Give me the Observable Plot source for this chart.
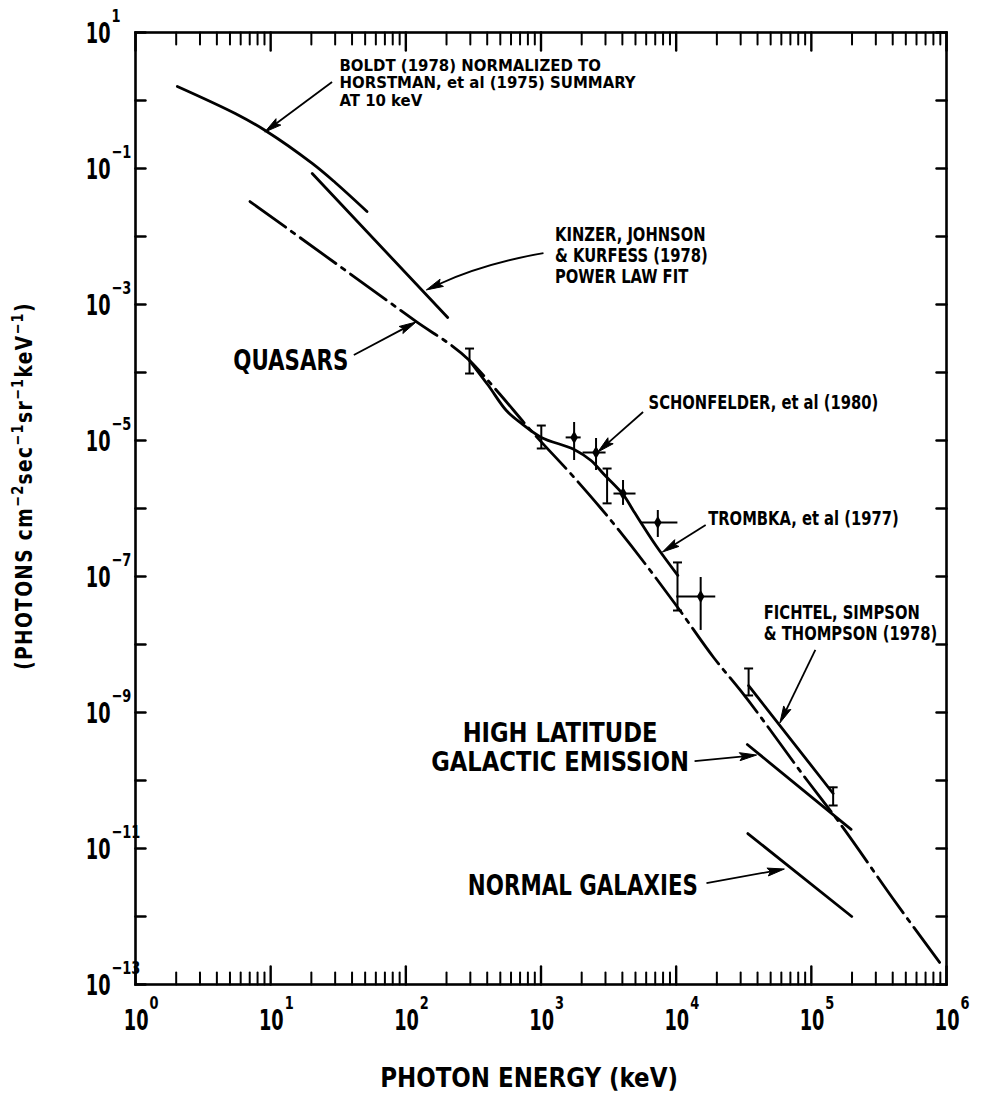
<!DOCTYPE html>
<html><head><meta charset="utf-8">
<script src="https://cdn.jsdelivr.net/npm/d3@7"></script>
<script src="https://cdn.jsdelivr.net/npm/@observablehq/plot@0.6"></script>
<style>body{margin:0;background:#fff} svg{display:block}</style>
</head><body><div id="chart"></div>
<script>
// ---------------- data (energy in keV, flux in photons cm^-2 s^-1 sr^-1 keV^-1) ----------------
const boldtE = [2.04, 5.47, 9.12, 20.3, 30.0, 51.6];
const boldtF = [1.61, 0.644, 0.362, 0.1186, 0.0622, 0.0233];

const kinzerE = [20.3, 204];
const kinzerF = [0.0843, 6.44e-4];

const quasarE = [7.03, 116, 296, 484, 805, 1758, 2782, 10280, 18930, 29900, 93300, 163000, 401000, 889000];
const quasarF = [0.0327, 5.82e-4, 1.50e-4, 5.08e-5, 1.55e-5, 2.86e-6, 1.0e-6, 3.5e-8, 6.44e-9, 2.11e-9, 1.0e-10, 2.33e-11, 1.84e-12, 2.11e-13];

const combE = [296, 408, 554, 716, 1005, 1758, 2344, 2930, 4045, 4864, 7080, 10280];
const combF = [1.50e-4, 6.44e-5, 2.76e-5, 1.78e-5, 1.11e-5, 7.38e-6, 5.08e-6, 3.16e-6, 1.61e-6, 9.04e-7, 2.86e-7, 1.04e-7];

const fichtelE = [34350, 145000];
const fichtelF = [2.49e-9, 6.44e-11];

const highLatE = [33600, 196800];
const highLatF = [3.38e-10, 1.91e-11];

const normalE = [33900, 199000];
const normalF = [1.66e-11, 1.0e-12];

// error bars with end caps
const capE  = [296, 1005, 3083, 10230, 34350, 145000];
const capLo = [9.66e-5, 7.63e-6, 1.19e-6, 3.16e-8, 1.78e-9, 4.29e-11];
const capHi = [2.25e-4, 1.66e-5, 3.87e-6, 1.61e-7, 4.44e-9, 7.94e-11];

// data points with crossed error bars
const crossE    = [1758, 2554, 4045, 7315, 15180];
const crossF    = [1.11e-5, 6.66e-6, 1.66e-6, 6.22e-7, 5.08e-8];
const crossLo   = [5.08e-6, 3.62e-6, 1.11e-6, 3.75e-7, 1.61e-8];
const crossHi   = [1.84e-5, 1.07e-5, 2.58e-6, 9.35e-7, 9.66e-8];
const crossEmin = [1535, 2047, 3467, 5479, 10090];
const crossEmax = [1982, 3030, 5047, 10300, 19630];

// annotation texts and anchor points (data coords)
const boldtText = ["BOLDT (1978) NORMALIZED TO\nHORSTMAN, et al (1975) SUMMARY\nAT 10 keV"];
const boldtE0 = [32.3], boldtF0 = [1.84];
const noteTexts = ["KINZER, JOHNSON\n& KURFESS (1978)\nPOWER LAW FIT", "SCHONFELDER, et al (1980)", "TROMBKA, et al (1977)", "FICHTEL, SIMPSON\n& THOMPSON (1978)"];
const noteE = [1270, 6250, 17260, 44500];
const noteF = [5.26e-3, 3.62e-5, 7.13e-7, 2.11e-8];
const bigEndTexts = ["QUASARS", "NORMAL GALAXIES"];
const bigEndE = [37.6, 14500];
const bigEndF = [1.50e-4, 2.86e-12];
const bigMidTexts = ["HIGH LATITUDE\nGALACTIC EMISSION"];
const bigMidE = [1384];
const bigMidF = [3.11e-10];

// arrows: from (label) -> to (curve)
const arrowFromE = [28.7, 41.6, 5740, 16670, 108000, 13800, 16900];
const arrowFromF = [1.84, 1.78e-4, 2.58e-5, 5.62e-7, 8.17e-9, 1.90e-10, 3.05e-12];
const arrowToE   = [9.12, 120, 2654, 7980, 59000, 39700, 63700];
const arrowToF   = [0.338, 5.43e-4, 6.66e-6, 2.25e-7, 6.89e-10, 2.33e-10, 4.91e-12];
const curvedFromE = [1052], curvedFromF = [5.62e-3], curvedToE = [143], curvedToF = [1.61e-3];

// axis ticks
const xExponents = [0, 1, 2, 3, 4, 5, 6];
const minorMultipliers = [2, 3, 4, 5, 6, 7, 8, 9];
const yExponents = [1, 0, -1, -2, -3, -4, -5, -6, -7, -8, -9, -10, -11, -12, -13];
const yLabelExponents = [1, -1, -3, -5, -7, -9, -11, -13];
const xTitle = ["PHOTON ENERGY (keV)"];

// ---------------- build ----------------
const zipXY = (xs, ys) => xs.map((x, i) => ({x, y: ys[i]}));
const xMajor = xExponents.map(e => 10 ** e);
const xMinor = xExponents.slice(0, -1).flatMap(e => minorMultipliers.map(m => m * 10 ** e));
const yMajor = yExponents.map(e => 10 ** e);
const xLabelTxt = xExponents.map(e => ({v: 10 ** e, e: String(e).replace("-", "\u2212")}));
const yLabelTxt = yLabelExponents.map(e => ({v: 10 ** e, e: String(e).replace("-", "\u2212")}));

const caps = capE.map((x, i) => ({x, lo: capLo[i], hi: capHi[i]}));
const crosses = crossE.map((x, i) => ({x, y: crossF[i], lo: crossLo[i], hi: crossHi[i], x1: crossEmin[i], x2: crossEmax[i]}));
const arrows = arrowFromE.map((x1, i) => ({x1, y1: arrowFromF[i], x2: arrowToE[i], y2: arrowToF[i]}));
const curvedArrows = curvedFromE.map((x1, i) => ({x1, y1: curvedFromF[i], x2: curvedToE[i], y2: curvedToF[i]}));

const FONT = '"DejaVu Sans Condensed","DejaVu Sans",sans-serif';
const SW = 2.8;

const tickShape = {draw(ctx, l) { ctx.moveTo(0, 0); ctx.lineTo(0, -l); }};
const capSymbol = {draw(ctx) { ctx.moveTo(-4.5, 0); ctx.lineTo(4.5, 0); }};

function arrowRender(bend) {
  return (index, scales, values) => {
    const g = d3.create("svg:g").attr("aria-label", "arrow");
    for (const i of index) {
      const x1 = values.x1[i], y1 = values.y1[i], x2 = values.x2[i], y2 = values.y2[i];
      const dx = x2 - x1, dy = y2 - y1;
      const cx = (x1 + x2) / 2 - dy * bend, cy = (y1 + y2) / 2 + dx * bend;
      let tx = x2 - cx, ty = y2 - cy;
      const tl = Math.hypot(tx, ty); tx /= tl; ty /= tl;
      const hl = 17, hw = 4;
      const bx = x2 - tx * hl, by = y2 - ty * hl;
      g.append("path")
        .attr("d", `M${x1},${y1}Q${cx},${cy} ${bx + tx * 4},${by + ty * 4}`)
        .attr("fill", "none").attr("stroke", "black").attr("stroke-width", 1.8);
      g.append("path")
        .attr("d", `M${x2},${y2}L${bx - ty * hw},${by + tx * hw}L${bx + tx * 3},${by + ty * 3}L${bx + ty * hw},${by - tx * hw}Z`)
        .attr("fill", "black").attr("stroke", "black").attr("stroke-width", 1);
    }
    return g.node();
  };
}

// narrowing groups: class name -> horizontal scale
const narrow = {n68: 0.68, n80: 0.8, n82: 0.82, n100: 1.0, n94: 0.94, n945: 0.945};
const tag = k => ({className: k, ariaDescription: k});
const bold = {fontWeight: "bold"};

const plot = Plot.plot({
  width: 981, height: 1097,
  marginLeft: 135, marginRight: 35, marginTop: 32, marginBottom: 113,
  x: {type: "log", domain: [1, 1e6], axis: null},
  y: {type: "log", domain: [1e-13, 10], axis: null},
  style: {fontFamily: FONT, background: "white", color: "black"},
  marks: [
    // ticks (inward)
    Plot.vector(xMinor, {x: d => d, y: 1e-13, length: 12, rotate: 0, anchor: "start", shape: tickShape, strokeWidth: 2}),
    Plot.vector(xMajor, {x: d => d, y: 1e-13, length: 18, rotate: 0, anchor: "start", shape: tickShape, strokeWidth: 2.4}),
    Plot.vector(xMinor, {x: d => d, y: 10, length: 12, rotate: 180, anchor: "start", shape: tickShape, strokeWidth: 2}),
    Plot.vector(xMajor, {x: d => d, y: 10, length: 18, rotate: 180, anchor: "start", shape: tickShape, strokeWidth: 2.4}),
    Plot.vector(yMajor, {x: 1, y: d => d, length: 10, rotate: 90, anchor: "start", shape: tickShape, strokeWidth: 2.4}),
    Plot.vector(yMajor, {x: 1e6, y: d => d, length: 10, rotate: -90, anchor: "start", shape: tickShape, strokeWidth: 2.4}),
    Plot.frame({strokeWidth: 2.6}),

    // tick labels
    Plot.text(xLabelTxt, {x: "v", y: 1e-13, text: () => "10", dx: 13, dy: 36, textAnchor: "end", fontSize: 29, ...bold, ...tag("n68")}),
    Plot.text(xLabelTxt, {x: "v", y: 1e-13, text: "e", dx: 14, dy: 19, textAnchor: "start", fontSize: 18, ...bold, ...tag("n80")}),
    Plot.text(yLabelTxt, {x: 1, y: "v", text: () => "10", dx: -25, dy: 1, textAnchor: "end", fontSize: 29, ...bold, ...tag("n68")}),
    Plot.text(yLabelTxt, {x: 1, y: "v", text: "e", dx: -24, dy: -16, textAnchor: "start", fontSize: 18, ...bold, ...tag("n80")}),

    // spectra
    Plot.line(zipXY(boldtE, boldtF), {x: "x", y: "y", curve: "catmull-rom", strokeWidth: SW}),
    Plot.line(zipXY(kinzerE, kinzerF), {x: "x", y: "y", strokeWidth: SW}),
    Plot.line(zipXY(quasarE, quasarF), {x: "x", y: "y", curve: "monotone-x", strokeWidth: SW, strokeDasharray: "44,7,4,7"}),
    Plot.line(zipXY(combE, combF), {x: "x", y: "y", curve: "catmull-rom", strokeWidth: SW}),
    Plot.line(zipXY(fichtelE, fichtelF), {x: "x", y: "y", strokeWidth: SW}),
    Plot.line(zipXY(highLatE, highLatF), {x: "x", y: "y", strokeWidth: SW}),
    Plot.line(zipXY(normalE, normalF), {x: "x", y: "y", strokeWidth: SW}),

    // error bars
    Plot.ruleX(caps, {x: "x", y1: "lo", y2: "hi", strokeWidth: 2}),
    Plot.dot(caps, {x: "x", y: "lo", symbol: capSymbol, stroke: "black", strokeWidth: 2}),
    Plot.dot(caps, {x: "x", y: "hi", symbol: capSymbol, stroke: "black", strokeWidth: 2}),
    Plot.ruleX(crosses, {x: "x", y1: "lo", y2: "hi", strokeWidth: 2}),
    Plot.ruleY(crosses, {y: "y", x1: "x1", x2: "x2", strokeWidth: 2}),
    Plot.dot(crosses, {x: "x", y: "y", symbol: "diamond", r: 4, fill: "black"}),

    // annotations
    Plot.text(boldtText, {x: (d, i) => boldtE0[i], y: (d, i) => boldtF0[i], text: d => d, textAnchor: "start", lineHeight: 1.06, fontSize: 16.6, ...bold, ...tag("n100")}),
    Plot.text(noteTexts, {x: (d, i) => noteE[i], y: (d, i) => noteF[i], text: d => d, textAnchor: "start", lineHeight: 1.06, fontSize: 20, ...bold, ...tag("n82")}),
    Plot.text(bigEndTexts, {x: (d, i) => bigEndE[i], y: (d, i) => bigEndF[i], text: d => d, textAnchor: "end", fontSize: 29, ...bold, ...tag("n82")}),
    Plot.text(bigMidTexts, {x: (d, i) => bigMidE[i], y: (d, i) => bigMidF[i], text: d => d, textAnchor: "middle", lineHeight: 1.07, fontSize: 26.8, ...bold, ...tag("n94")}),
    Plot.link(arrows, {x1: "x1", y1: "y1", x2: "x2", y2: "y2", stroke: "black", render: arrowRender(0)}),
    Plot.link(curvedArrows, {x1: "x1", y1: "y1", x2: "x2", y2: "y2", stroke: "black", render: arrowRender(0.065)}),

    // x axis title
    Plot.text(xTitle, {frameAnchor: "bottom", text: d => d, dx: -12, dy: 102, fontSize: 27, ...bold, ...tag("n945")})
  ]
});

// horizontally narrow the lettering (the original uses a condensed stencil face)
const svg = d3.select(plot);
for (const [k, s] of Object.entries(narrow)) {
  svg.selectAll(`g.${k} text, g[aria-description="${k}"] text`).each(function () {
    if (this.dataset.narrowed) return;
    this.dataset.narrowed = "1";
    const t = this.getAttribute("transform") || "";
    this.setAttribute("transform", `${t} scale(${s},1)`);
  });
}

// y axis title with real superscripts
const yt = svg.append("text")
  .attr("transform", "translate(32,486) rotate(-90) scale(0.9,1)")
  .attr("text-anchor", "middle")
  .attr("font-family", FONT).attr("font-weight", "bold").attr("font-size", 23)
  .style("letter-spacing", "1.5px");
const parts = [["(PHOTONS cm", false], ["\u22122", true], ["sec", false], ["\u22121", true], ["sr", false], ["\u22121", true], ["keV", false], ["\u22121", true], [")", false]];
for (const [t, sup] of parts) {
  yt.append("tspan").attr("baseline-shift", sup ? "62%" : null).attr("font-size", sup ? 16 : null).text(t);
}
document.getElementById("chart").appendChild(plot);
</script>
</body></html>
